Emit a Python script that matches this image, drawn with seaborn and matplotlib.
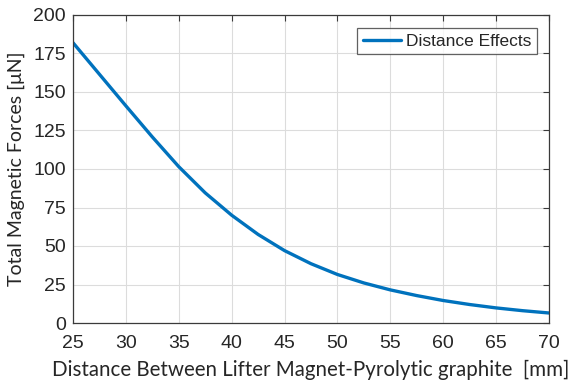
import matplotlib
matplotlib.use("Agg")
import matplotlib.pyplot as plt
import seaborn as sns
import pandas as pd

distance_mm = [25, 27.5, 30, 32.5, 35, 37.5, 40, 42.5, 45, 47.5, 50, 52.5, 55, 57.5, 60, 62.5, 65, 67.5, 70]
force_uN = [182, 161.5, 141, 120.8, 101.5, 84.5, 70, 57.5, 47, 38.5, 31.5, 26, 21.5, 17.8, 14.6, 12, 9.8, 8, 6.5]
x_ticks = [25, 30, 35, 40, 45, 50, 55, 60, 65, 70]
y_ticks = [0, 25, 50, 75, 100, 125, 150, 175, 200]
series_name = "Distance Effects"

df = pd.DataFrame({"Distance": distance_mm, "Force": force_uN, "Series": series_name})

sns.set_style("white")
plt.rcParams["font.family"] = ["Liberation Sans", "DejaVu Sans"]

fig = plt.figure(figsize=(5.75, 3.85), dpi=100)
ax = fig.add_axes([73/575, 1 - 323/385, (549-73)/575, (323-15)/385])

sns.lineplot(data=df, x="Distance", y="Force", hue="Series", palette=["#0072BD"],
             linewidth=2.4, ax=ax)

ax.set_xlim(25, 70)
ax.set_ylim(0, 200)
ax.set_xticks(x_ticks)
ax.set_yticks(y_ticks)
ax.grid(True, color="#dcdcdc", linewidth=0.8)
ax.set_axisbelow(True)
for s in ax.spines.values():
    s.set_color("#3a3a3a")
    s.set_linewidth(0.9)
    s.set_visible(True)
ax.tick_params(direction="in", length=4, width=0.8, color="#3a3a3a",
               top=True, right=True, labelsize=14, labelcolor="#262626")
ax.tick_params(axis="x", pad=9)
ax.tick_params(axis="y", pad=5)

ax.set_xlabel("Distance Between Lifter Magnet-Pyrolytic graphite  [mm]",
              fontsize=14.8, family=["Lato", "DejaVu Sans"], color="#262626", labelpad=5)
ax.set_ylabel("Total Magnetic Forces [\u03bcN]", fontsize=14,
              family=["Lato", "DejaVu Sans"], color="#262626", labelpad=6)

leg = ax.legend(loc="upper right", fontsize=12.5, frameon=True, fancybox=False,
                edgecolor="#3a3a3a", handlelength=2.2, handletextpad=0.3,
                borderpad=0.3, bbox_to_anchor=(0.992, 0.985))
leg.get_frame().set_linewidth(0.9)

fig.savefig("out.png", dpi=100)
